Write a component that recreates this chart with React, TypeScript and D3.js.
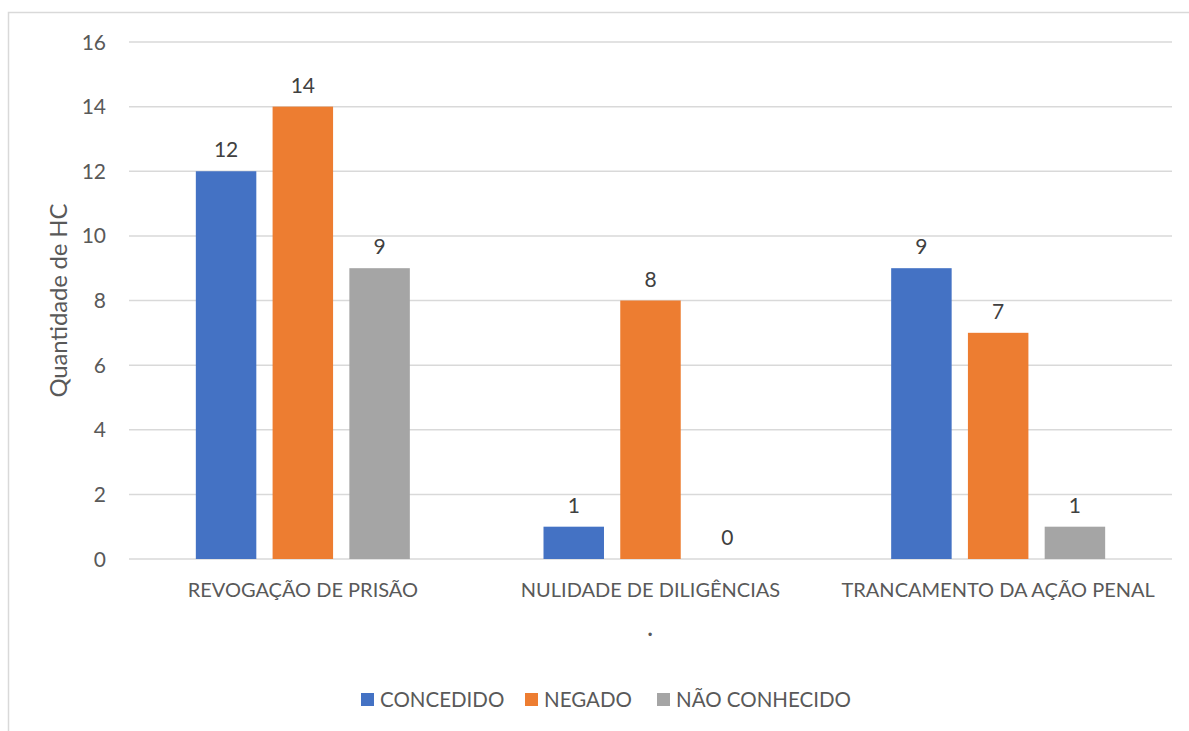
import React from "react";
import * as d3 from "d3";

const categories = ["REVOGAÇÃO DE PRISÃO", "NULIDADE DE DILIGÊNCIAS", "TRANCAMENTO DA AÇÃO PENAL"];
const seriesNames = ["CONCEDIDO", "NEGADO", "NÃO CONHECIDO"];
const concedido = [12, 1, 9];
const negado = [14, 8, 7];
const naoConhecido = [9, 0, 1];
const yTicks = [0, 2, 4, 6, 8, 10, 12, 14, 16];
const colors = ["#4472C4", "#ED7D31", "#A5A5A5"];

const W = 1189;
const H = 731;
const FONT = "Lato, 'Open Sans', sans-serif";

export default function App() {
  const series = [concedido, negado, naoConhecido];
  const x = d3.scaleBand<string>().domain(categories).range([129, 1172]).paddingInner(0).paddingOuter(0);
  const y = d3.scaleLinear().domain([0, 16]).range([559, 42]);
  const groupW = 214;
  const inner = d3.scaleBand<number>().domain([0, 1, 2]).range([0, groupW]).paddingInner(0.212).paddingOuter(0);
  const gray = "#595959";

  const legendX = [361, 525, 657];

  return (
    <svg width={W} height={H} style={{ position: "absolute", left: 0, top: 0, background: "#fff" }}>
      <rect x={8.5} y={12.5} width={W + 10} height={H + 10} fill="#fff" stroke="#d9d9d9" strokeWidth={1.5} />
      {yTicks.map((t) => (
        <g key={t}>
          <line x1={129} x2={1172} y1={y(t)} y2={y(t)} stroke="#d9d9d9" strokeWidth={1.5} />
          <text x={106} y={y(t)} dy="0.36em" textAnchor="end" fontFamily={FONT} fontSize={21} fill={gray}>
            {t}
          </text>
        </g>
      ))}
      <text
        transform={`translate(67,${(y(0) + y(16)) / 2}) rotate(-90)`}
        textAnchor="middle"
        fontFamily={FONT}
        fontSize={24}
        textLength={194}
        lengthAdjust="spacing"
        fill={gray}
      >
        Quantidade de HC
      </text>
      {categories.map((c, ci) => {
        const cx = (x(c) as number) + x.bandwidth() / 2;
        const gx = cx - groupW / 2;
        return (
          <g key={c}>
            {series.map((s, si) => {
              const bx = gx + (inner(si) as number);
              const v = s[ci];
              return (
                <g key={si}>
                  {v > 0 && (
                    <rect x={bx} y={y(v)} width={inner.bandwidth()} height={y(0) - y(v)} fill={colors[si]} />
                  )}
                  <text
                    x={bx + inner.bandwidth() / 2}
                    y={y(v) - 14}
                    textAnchor="middle"
                    fontFamily={FONT}
                    fontSize={21}
                    fill="#404040"
                  >
                    {v}
                  </text>
                </g>
              );
            })}
            <text x={cx} y={597} textAnchor="middle" fontFamily={FONT} fontSize={20} fill={gray}>
              {c}
            </text>
          </g>
        );
      })}
      <text x={650} y={636} textAnchor="middle" fontFamily={FONT} fontSize={22} fontWeight={700} fill={gray}>
        .
      </text>
      {seriesNames.map((n, i) => (
        <g key={n}>
          <rect x={legendX[i]} y={693} width={13} height={13} fill={colors[i]} />
          <text x={legendX[i] + 19} y={707} fontFamily={FONT} fontSize={20.5} fill={gray}>
            {n}
          </text>
        </g>
      ))}
    </svg>
  );
}
